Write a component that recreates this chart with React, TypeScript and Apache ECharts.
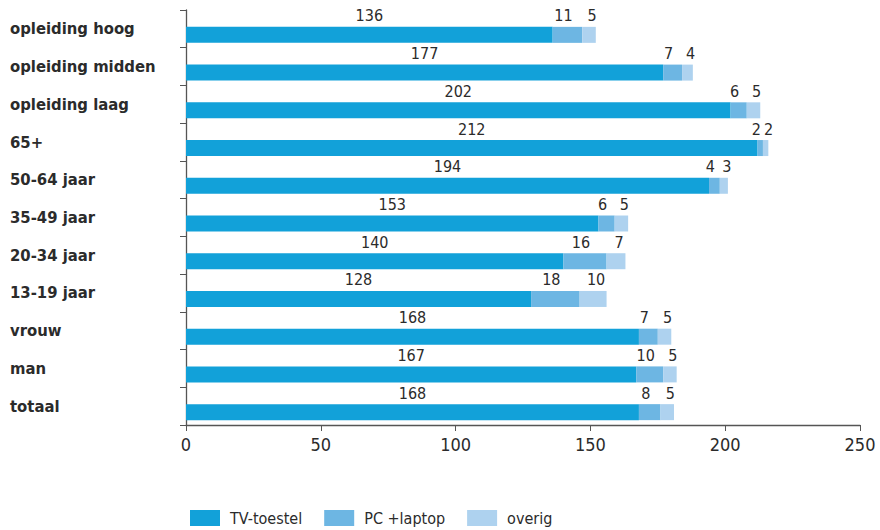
import React, { useEffect, useRef } from "react";
import * as echarts from "echarts";

const categories = [
  "totaal",
  "man",
  "vrouw",
  "13-19 jaar",
  "20-34 jaar",
  "35-49 jaar",
  "50-64 jaar",
  "65+",
  "opleiding laag",
  "opleiding midden",
  "opleiding hoog",
];
const tvValues = [168, 167, 168, 128, 140, 153, 194, 212, 202, 177, 136];
const pcValues = [8, 10, 7, 18, 16, 6, 4, 2, 6, 7, 11];
const overigValues = [5, 5, 5, 10, 7, 5, 3, 2, 5, 4, 5];
const spacerValues = categories.map(() => 0);
const xTicks = { min: 0, max: 250, interval: 50 };

const FONT = "'DejaVu Sans Condensed', 'Liberation Sans Narrow', sans-serif";
const TEXT = "#2b2b2b";

export default function App() {
  const ref = useRef<HTMLDivElement>(null);
  useEffect(() => {
    if (!ref.current) return;
    const chart = echarts.init(ref.current, undefined, { renderer: "svg" });
    const label = (dx: number) => ({
      show: true,
      position: "top" as const,
      distance: 3,
      offset: [dx, 0],
      color: TEXT,
      fontFamily: FONT,
      fontSize: 16,
    });
    const mk = (name: string, data: number[], color: string, dx: number) => ({
      name,
      type: "bar" as const,
      stack: "a",
      data,
      barWidth: 16,
      barGap: "-25%",
      itemStyle: { color },
      label: label(dx),
    });
    chart.setOption({
      animation: false,
      grid: { left: 186, right: 20, top: 10, bottom: 105, containLabel: false },
      legend: {
        data: ["TV-toestel", "PC +laptop", "overig"],
        top: 510,
        left: 190,
        padding: 0,
        itemWidth: 30,
        itemHeight: 16,
        itemGap: 22,
        icon: "rect",
        textStyle: { fontFamily: FONT, fontSize: 16, color: TEXT, padding: [0, 0, 0, 5] },
      },
      xAxis: {
        type: "value",
        min: xTicks.min,
        max: xTicks.max,
        interval: xTicks.interval,
        splitLine: { show: false },
        axisLine: { show: true, lineStyle: { color: "#555", width: 1.3 } },
        axisTick: { show: true, length: 6, lineStyle: { color: "#555" } },
        axisLabel: { color: TEXT, fontFamily: FONT, fontSize: 18, margin: 10 },
      },
      yAxis: {
        type: "category",
        data: categories,
        axisLine: { show: true, lineStyle: { color: "#555", width: 1.3 } },
        axisTick: { show: true, length: 6, lineStyle: { color: "#555" } },
        axisLabel: {
          color: TEXT,
          fontFamily: FONT,
          fontSize: 16.5,
          fontWeight: "bold",
          align: "left",
          margin: 176,
        },
      },
      series: [
        {
          name: "spacer",
          type: "bar",
          stack: "b",
          data: spacerValues,
          barWidth: 16,
          barGap: "-25%",
          itemStyle: { color: "transparent" },
          silent: true,
        },
        mk("TV-toestel", tvValues, "#12a1d9", 0),
        mk("PC +laptop", pcValues, "#6db6e3", -4),
        mk("overig", overigValues, "#aed2ef", 3),
      ],
    });
    return () => chart.dispose();
  }, []);
  return (
    <div
      ref={ref}
      style={{ width: 880, height: 530, position: "absolute", left: 0, top: 0 }}
    />
  );
}
